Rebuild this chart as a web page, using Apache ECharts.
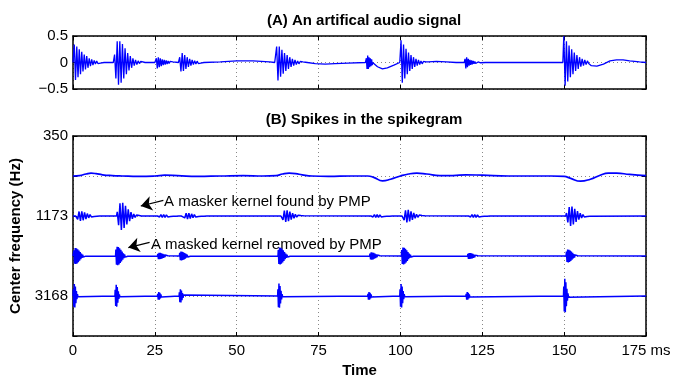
<!DOCTYPE html>
<html>
<head>
<meta charset="utf-8">
<script src="https://cdn.jsdelivr.net/npm/echarts@6/dist/echarts.min.js"></script>
<style>
html,body{margin:0;padding:0;background:#fff;}
#c{width:673px;height:376px;}
</style>
</head>
<body>
<div id="c"></div>
<script>
// ---------- tick data ----------
const timeTicks = [0, 25, 50, 75, 100, 125, 150, 175];
const timeTickLabels = ['0', '25', '50', '75', '100', '125', '150', '175 ms'];
const ampTicks = [-0.5, 0, 0.5];
const ampTickLabels = ['\u22120.5', '0', '0.5'];
const freqTicks = [0, 2, 4];
const freqTickLabels = ['350', '1173', '3168'];
const channelRows = [1, 2, 3, 4];

// ---------- (A) audio signal ----------
// slow part of the signal between the bursts [ms, amplitude]
const sigSlow = [[0,0],[9.5,0],[12.3,0],[22,0],[25,0],[30.5,0.01],[32.2,0],[40,0],[45,0.01],[50,0.03],[55,0.03],[60,0.01],[61.6,0],
  [71.5,0],[74,-0.02],[77,-0.03],[80,-0.02],[84,-0.01],[89.3,0],[91.8,-0.03],[93,-0.08],[94.5,-0.12],[96,-0.1],[98,-0.05],[99.8,0],
  [108.5,0.01],[111,0.02],[114,0.01],[117,0],[119.5,0],[126,0],[140,0],[149.6,0],[158.3,-0.06],[160,-0.07],[162,-0.03],[164,0.03],
  [166,0.05],[168,0.05],[170,0.03],[173,0.01],[175,0]];
// oscillating bursts: onset (ms), half-cycle spacing (ms), successive peak magnitudes
const sigBurstOnset = [0.2, 12.5, 25.3, 32.4, 62, 89.5, 100, 119.6, 149.7];
const sigBurstStep = [0.38, 0.4, 0.3, 0.38, 0.4, 0.2, 0.38, 0.25, 0.4];
const sigBurstPeaks = [
  [0.34,0.33,0.3,0.28,0.25,0.22,0.2,0.17,0.15,0.13,0.12,0.1,0.08,0.07,0.06,0.05,0.04,0.03,0.03,0.02,0.015,0.01],
  [0.15,0.3,0.4,0.42,0.4,0.38,0.35,0.3,0.27,0.22,0.18,0.15,0.12,0.1,0.08,0.06,0.05,0.04,0.03,0.02,0.02,0.01],
  [0.08,0.11,0.1,0.09,0.08,0.07,0.06,0.05,0.05,0.04,0.04,0.03,0.03,0.02,0.02,0.015],
  [0.1,0.17,0.18,0.16,0.14,0.12,0.1,0.085,0.07,0.06,0.05,0.04,0.035,0.03,0.025,0.02,0.015,0.01,0.01],
  [0.3,0.34,0.3,0.27,0.24,0.21,0.18,0.16,0.14,0.12,0.1,0.085,0.07,0.06,0.05,0.04,0.03,0.025,0.02,0.015,0.01,0.01,0.005],
  [0.08,0.12,0.13,0.12,0.1,0.09,0.08,0.07,0.06,0.05],
  [0.42,0.38,0.34,0.3,0.26,0.22,0.19,0.16,0.14,0.12,0.1,0.085,0.07,0.06,0.05,0.04,0.03,0.025,0.02,0.015,0.01],
  [0.07,0.11,0.1,0.09,0.07,0.06,0.05,0.045,0.04,0.035,0.03,0.025,0.02,0.02,0.015,0.015,0.01,0.01,0.01,0.005],
  [0.5,0.44,0.4,0.36,0.32,0.28,0.25,0.22,0.19,0.16,0.14,0.12,0.1,0.08,0.07,0.06,0.05,0.04,0.03,0.02]
];

// ---------- (B) spikegram (amplitudes in units of row spacing) ----------
// 350 Hz channel: slow wave [ms, amplitude]
const ch1Wave = [[0,0],[2,0.01],[4,0.05],[5.5,0.07],[7,0.06],[9,0.03],[12,0.01],[15,0],[20,-0.01],[25,0],[28,0.02],[32,0.01],[38,-0.01],
  [45,0],[52,0.01],[58,0],[62,0.01],[64,0.05],[66,0.07],[68,0.06],[70,0.03],[73,0],[78,-0.01],[85,0],[90,0],[92,-0.04],[94.5,-0.12],
  [97,-0.08],[100,0],[102.5,0.05],[105,0.07],[108,0.05],[112,0.01],[116,0.01],[120,0.03],[125,0.02],[133,0],[140,0],[146,0],[150,-0.01],
  [152,-0.06],[155,-0.13],[158,-0.08],[161,0.02],[163.5,0.07],[166,0.07],[170,0.04],[175,0.01]];
// 1173 Hz channel kernels
const ch2Env = [0.3,0.65,0.9,1,0.95,0.85,0.72,0.6,0.48,0.37,0.28,0.2,0.14,0.1,0.07,0.045,0.03,0.015];
const ch2Step = 0.42;
const ch2Onset = [0.8, 13.3, 25.8, 33.5, 63.5, 91, 100.5, 120.8, 150.5];
const ch2Amp = [0.125, 0.35, 0.038, 0.075, 0.15, 0.038, 0.16, 0.038, 0.25];
// third channel kernels
const ch3Env = [0.7,0.95,1,1,0.97,0.92,0.85,0.77,0.68,0.58,0.48,0.39,0.3,0.23,0.17,0.12,0.08,0.05,0.03,0.02];
const ch3Step = 0.19;
const ch3Onset = [0.2, 13.0, 25.8, 32.5, 62.6, 90.6, 100.3, 120.5, 150.6];
const ch3Amp = [0.2, 0.23, 0.08, 0.11, 0.21, 0.09, 0.21, 0.075, 0.16];
// 3168 Hz channel kernels
const ch4Env = [0.55,0.9,1,0.95,0.8,0.6,0.42,0.27,0.15,0.07];
const ch4Step = 0.16;
const ch4Onset = [0.0, 12.8, 25.8, 32.4, 62.5, 90.0, 99.8, 120.0, 149.8];
const ch4Amp = [0.3, 0.28, 0.1, 0.17, 0.31, 0.1, 0.3, 0.1, 0.43];

// annotations
const annoText = ['A masker kernel found by PMP', 'A masked kernel removed by PMP'];
const annoTextAt = [[27.8, 1.64], [23.8, 2.725]];
const annoArrowFrom = [[27.6, 1.61], [23.4, 2.66]];
const annoArrowTo = [[20.7, 1.75], [16.9, 2.79]];

// ---------- build ----------
function burstPts(t0, step, peaks, scale) {
  const pts = [[t0, 0]];
  peaks.forEach((p, i) => pts.push([t0 + (i + 0.5) * step, (i % 2 ? -1 : 1) * p * scale]));
  pts.push([t0 + peaks.length * step, 0]);
  return pts;
}
function sortT(pts) { return pts.sort((a, b) => a[0] - b[0]); }

let sigPts = sigSlow.slice();
sigBurstOnset.forEach((t0, k) => { sigPts = sigPts.concat(burstPts(t0, sigBurstStep[k], sigBurstPeaks[k], 1)); });
sigPts = sortT(sigPts);

function channel(env, step, onsets, amps) {
  let pts = [[0, 0], [175, 0]];
  onsets.forEach((t0, k) => { pts = pts.concat(burstPts(t0, step, env, amps[k])); });
  return sortT(pts);
}
const chPts = [
  ch1Wave,
  channel(ch2Env, ch2Step, ch2Onset, ch2Amp),
  channel(ch3Env, ch3Step, ch3Onset, ch3Amp),
  channel(ch4Env, ch4Step, ch4Onset, ch4Amp)
];

const FONT = '"Liberation Sans", Arial, Helvetica, sans-serif';
const BLUE = '#0000ff';
const TXT = '#000';
const axLine = { show: true, onZero: false, lineStyle: { color: '#000', width: 1.5 } };
const tick = { show: true, inside: true, length: 4, lineStyle: { color: '#000', width: 1 } };
const grid = { show: true, lineStyle: { color: '#888', type: [1, 3], width: 1 } };

function xAx(gi, pos, labels, extra) {
  return Object.assign({
    type: 'value', gridIndex: gi, position: pos, min: 0, max: 175, interval: 25,
    axisLine: axLine, axisTick: tick,
    axisLabel: labels ? { show: true, margin: 7, color: TXT, fontSize: 15, fontFamily: FONT,
      formatter: v => { const i = timeTicks.indexOf(v); return i >= 0 ? timeTickLabels[i] : ''; } } : { show: false },
    splitLine: pos === 'bottom' ? grid : { show: false }
  }, extra || {});
}

const chart = echarts.init(document.getElementById('c'), null, { renderer: 'canvas' });
chart.setOption({
  animation: false,
  backgroundColor: '#fff',
  title: [
    { text: '(A) An artifical audio signal', left: 359, top: 8, textAlign: 'center',
      textStyle: { fontSize: 15, fontWeight: 'bold', color: TXT, fontFamily: FONT } },
    { text: '(B) Spikes in the spikegram', left: 359, top: 107, textAlign: 'center',
      textStyle: { fontSize: 15, fontWeight: 'bold', color: TXT, fontFamily: FONT } }
  ],
  grid: [
    { left: 73, right: 27, top: 36, height: 53, containLabel: false, outerBoundsMode: 'none' },
    { left: 73, right: 27, top: 136, height: 200, containLabel: false, outerBoundsMode: 'none' }
  ],
  xAxis: [
    xAx(0, 'bottom', false),
    xAx(0, 'top', false),
    xAx(1, 'bottom', true, { name: 'Time', nameLocation: 'middle', nameGap: 25,
      nameTextStyle: { fontSize: 15, fontWeight: 'bold', color: TXT, fontFamily: FONT } }),
    xAx(1, 'top', false)
  ],
  yAxis: [
    { type: 'value', gridIndex: 0, position: 'left', min: -0.5, max: 0.5, interval: 0.5,
      axisLine: axLine, axisTick: tick, splitLine: grid,
      axisLabel: { margin: 5, color: TXT, fontSize: 15, fontFamily: FONT,
        formatter: v => { const i = ampTicks.indexOf(v); return i >= 0 ? ampTickLabels[i] : ''; } } },
    { type: 'value', gridIndex: 0, position: 'right', min: -0.5, max: 0.5, interval: 0.5,
      axisLine: axLine, axisTick: tick, splitLine: { show: false }, axisLabel: { show: false } },
    { type: 'value', gridIndex: 1, position: 'left', min: 0, max: 5, interval: 1, inverse: true,
      axisLine: axLine, axisTick: tick, splitLine: grid,
      name: 'Center frequency (Hz)', nameLocation: 'middle', nameGap: 38, nameRotate: 90,
      nameTextStyle: { fontSize: 15, fontWeight: 'bold', color: TXT, fontFamily: FONT },
      axisLabel: { margin: 5, color: TXT, fontSize: 15, fontFamily: FONT,
        formatter: v => { const i = freqTicks.indexOf(v); return i >= 0 ? freqTickLabels[i] : ''; } } },
    { type: 'value', gridIndex: 1, position: 'right', min: 0, max: 5, interval: 1, inverse: true,
      axisLine: axLine, axisTick: tick, splitLine: { show: false }, axisLabel: { show: false } }
  ],
  series: [
    { type: 'line', xAxisIndex: 0, yAxisIndex: 0, data: sigPts, showSymbol: false, symbol: 'none',
      lineStyle: { color: BLUE, width: 1.3 }, clip: true }
  ].concat(chPts.map((pts, k) => ({
    type: 'line', xAxisIndex: 2, yAxisIndex: 2, symbol: 'none', showSymbol: false,
    smooth: k === 0 ? 0.5 : false,
    data: pts.map(p => [p[0], channelRows[k] - p[1]]),
    lineStyle: { color: BLUE, width: k === 0 ? 1.7 : 1.5 }
  }))).concat([
    { type: 'scatter', xAxisIndex: 2, yAxisIndex: 2, symbolSize: 0, silent: true,
      itemStyle: { opacity: 1 },
      data: annoText.map((s, i) => ({ value: annoTextAt[i], name: s })),
      label: { show: true, position: 'right', distance: 0, formatter: p => p.name,
        color: '#000', opacity: 1, fontSize: 15, fontFamily: FONT },
      markLine: { silent: true, symbol: ['none', 'arrow'], symbolSize: 11,
        label: { show: false },
        lineStyle: { color: '#000', width: 1.2, type: 'solid', opacity: 1 },
        data: annoArrowFrom.map((f, i) => [{ coord: f }, { coord: annoArrowTo[i] }]) }
    }
  ])
});
</script>
</body>
</html>
